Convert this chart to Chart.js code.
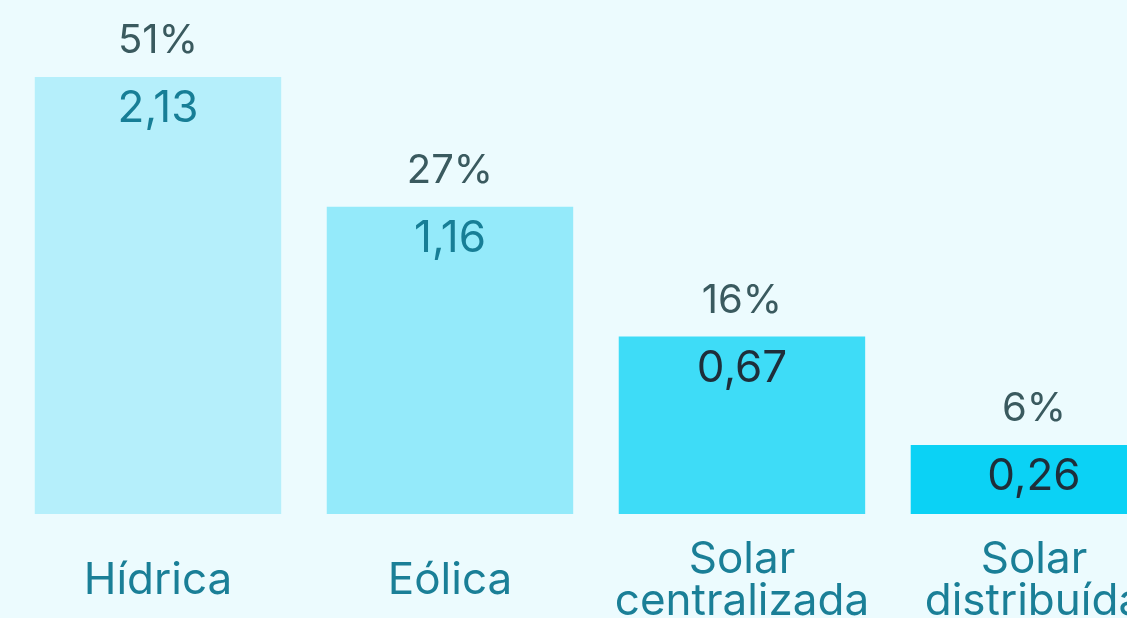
<!DOCTYPE html>
<html>
<head>
<meta charset="utf-8">
<script src="https://cdn.jsdelivr.net/npm/chart.js@4/dist/chart.umd.min.js"></script>
<style>
  html, body { margin: 0; padding: 0; background: #ecfbfe; overflow: hidden; }
  #wrap { width: 1190px; height: 690px; }
</style>
</head>
<body>
<div id="wrap"><canvas id="chart" width="1190" height="690"></canvas></div>
<script>
// --- DATA ---
const categories = [['Hídrica'], ['Eólica'], ['Solar', 'centralizada'], ['Solar', 'distribuída']];
const values = [2.13, 1.16, 0.67, 0.26];
const shares = [51, 27, 16, 6];

const barColors = ['#b5effb', '#94eafa', '#3edcf7', '#0bd2f5'];
const valueColors = ['#177e96', '#177e96', '#1e2e3a', '#1e2e3a'];
const FONT = 'Inter, "DejaVu Sans", sans-serif';

const fmt = v => v.toFixed(2).replace('.', ',');

// draws the share above each bar and the value inside it
const barLabels = {
    id: 'barLabels',
    afterDatasetsDraw(chart) {
        const ctx = chart.ctx;
        const area = chart.chartArea;
        const meta = chart.getDatasetMeta(0);
        ctx.save();
        ctx.textAlign = 'center';
        ctx.textBaseline = 'middle';
        meta.data.forEach((bar, i) => {
            const top = Math.max(bar.y, area.top);
            ctx.font = '40px ' + FONT;
            ctx.fillStyle = '#3a5a5f';
            ctx.fillText(shares[i] + '%', bar.x, top - 36);
            ctx.font = '44px ' + FONT;
            ctx.fillStyle = valueColors[i];
            ctx.fillText(fmt(values[i]), bar.x, top + 32);
        });
        ctx.restore();
    }
};

new Chart(document.getElementById('chart'), {
    type: 'bar',
    data: {
        labels: categories,
        datasets: [{
            data: values,
            backgroundColor: barColors,
            borderWidth: 0,
            categoryPercentage: 1,
            barPercentage: 0.844,
            clip: 0
        }]
    },
    options: {
        responsive: false,
        animation: false,
        layout: { padding: { left: 12, right: 7, top: 77, bottom: 0 } },
        plugins: { legend: { display: false }, tooltip: { enabled: false } },
        scales: {
            x: {
                grid: { display: false, drawTicks: false },
                border: { display: false },
                ticks: {
                    color: '#1a7f97',
                    font: { family: FONT, size: 44, lineHeight: 0.955 },
                    padding: 46,
                    autoSkip: false,
                    maxRotation: 0,
                    crossAlign: 'center'
                }
            },
            y: { display: false, min: 0, max: 1.65 }
        }
    },
    plugins: [barLabels]
});
</script>
</body>
</html>
